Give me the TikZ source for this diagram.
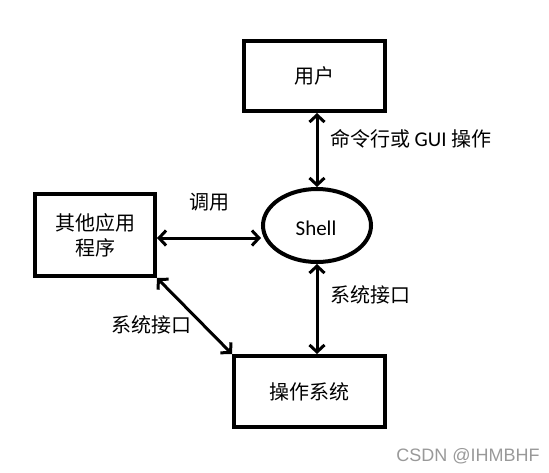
\documentclass[tikz,border=0pt]{standalone}
\usepackage{fontspec}
\setmainfont{Carlito}
\newfontfamily\cjk{Noto Sans CJK SC}
\newfontfamily\wmfont{Liberation Sans}
\usetikzlibrary{arrows.meta,shapes.geometric}

\tikzset{
    box/.style = {draw, line width=4pt, rectangle, inner sep=0pt, font=\fontsize{20}{25}\selectfont\cjk},
    link/.style = {line width=3pt, {Straight Barb[length=7pt,width=15pt]}-{Straight Barb[length=7pt,width=15pt]}},
    lbl/.style = {inner sep=0pt, font=\fontsize{20}{24}\selectfont\cjk}
}

\begin{document}
\begin{tikzpicture}[x=1pt, y=-1pt]
        \useasboundingbox (0,0) rectangle (549,472);

        \node (user) at (314, 76) [box, minimum width=141pt, minimum height=70pt] {用户};
        \node (apps) at (95, 235) [box, minimum width=120pt, minimum height=82pt, align=center] {其他应用\\程序};
        \node (shell) at (317, 225.5) [draw, line width=4pt, ellipse, inner sep=0pt, minimum width=108pt, minimum height=73pt] {};
        \node (os) at (309.5, 391.5) [box, minimum width=151pt, minimum height=71pt] {操作系统};

        \node (shelltxt) at (316, 228) [inner sep=0pt, font=\fontsize{21}{24}\selectfont] {Shell};

        \draw [link] (shell.north |- user.south) -- (shell.north);
        \draw [link] ([yshift=-3pt]apps.east) -- ([yshift=-3pt]apps.east -| shell.west);
        \draw [link] (shell.south) -- (shell.south |- os.north);
        \draw [link] (apps.south east) -- (os.north west);

        \node (cmd) at (330, 139) [lbl, anchor = west] {命令行或 {\fontsize{21}{24}\selectfont\rmfamily GUI} 操作};
        \node (call) at (209, 202) [lbl] {调用};
        \node (sysr) at (330, 295) [lbl, anchor = west] {系统接口};
        \node (sysl) at (151, 325) [lbl] {系统接口};

        \node (mark) at (468, 456) [inner sep=0pt, text=black!40, font=\fontsize{18}{20}\selectfont\wmfont] {CSDN @IHMBHF};
    \end{tikzpicture}
\end{document}
